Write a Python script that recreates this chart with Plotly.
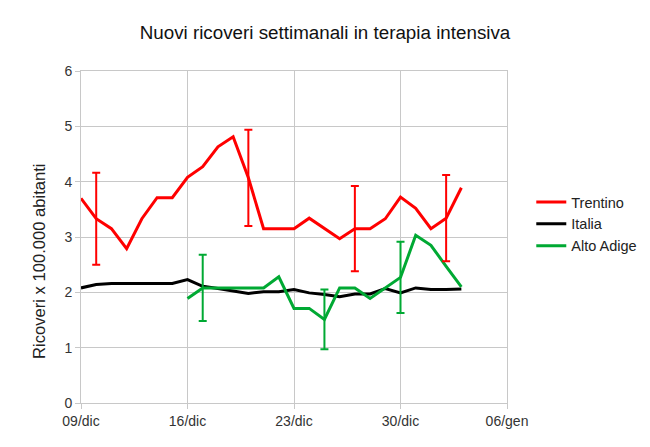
import pandas as pd
import plotly.graph_objects as go

# daily dates, 09/dic -> 03/gen
days = pd.date_range("2020-12-09", "2021-01-03", freq="D")

trentino = [3.70, 3.33, 3.15, 2.79, 3.33, 3.71, 3.71, 4.08, 4.27, 4.63, 4.81, 4.07, 3.15,
            3.15, 3.15, 3.34, 3.15, 2.97, 3.15, 3.15, 3.33, 3.72, 3.52, 3.15, 3.34, 3.89]
italia = [2.08, 2.14, 2.16, 2.16, 2.16, 2.15, 2.16, 2.23, 2.11, 2.07, 2.02, 1.98, 2.01,
          2.01, 2.05, 1.99, 1.96, 1.92, 1.97, 1.97, 2.07, 1.99, 2.08, 2.05, 2.05, 2.06]
alto_adige = [None] * 7 + [1.89, 2.08, 2.08, 2.08, 2.08, 2.08, 2.28, 1.71, 1.71, 1.51, 2.08,
                           2.08, 1.89, 2.08, 2.27, 3.03, 2.85, 2.47, 2.10]

# weekly confidence bars (index into days, +/- value)
trentino_err_idx = [1, 11, 18, 24]
trentino_err = [0.83, 0.87, 0.77, 0.78]
alto_adige_err_idx = [8, 16, 21]
alto_adige_err = [0.60, 0.54, 0.645]

tick_dates = ["2020-12-09", "2020-12-16", "2020-12-23", "2020-12-30", "2021-01-06"]
tick_labels = ["09/dic", "16/dic", "23/dic", "30/dic", "06/gen"]

RED, BLACK, GREEN = "#ff0000", "#000000", "#00a933"
GRID = "#c8c8c8"

fig = go.Figure()
fig.add_trace(go.Scatter(x=days, y=trentino, mode="lines", name="Trentino",
                         line=dict(color=RED, width=3)))
fig.add_trace(go.Scatter(x=days, y=italia, mode="lines", name="Italia",
                         line=dict(color=BLACK, width=3)))
fig.add_trace(go.Scatter(x=days, y=alto_adige, mode="lines", name="Alto Adige",
                         line=dict(color=GREEN, width=3)))

# error bars as invisible-marker overlays
for idx, err, col in [(trentino_err_idx, trentino_err, RED),
                      (alto_adige_err_idx, alto_adige_err, GREEN)]:
    src = trentino if col == RED else alto_adige
    fig.add_trace(go.Scatter(
        x=[days[i] for i in idx], y=[src[i] for i in idx], mode="markers",
        marker=dict(size=1, opacity=0), showlegend=False, hoverinfo="skip",
        error_y=dict(type="data", array=err, visible=True, color=col,
                     thickness=2, width=4)))

# page body has an 8px margin, so margins are shifted by that amount
fig.update_layout(
    width=650, height=447,
    paper_bgcolor="white", plot_bgcolor="white",
    font=dict(family="Liberation Sans, Arial, sans-serif", color="#333333", size=14),
    title=dict(text="Nuovi ricoveri settimanali in terapia intensiva",
               x=0.5 - 8 / 650, xanchor="center", y=0.946, yanchor="middle",
               font=dict(size=18.8, color="#111111")),
    margin=dict(l=73, r=151, t=63, b=52),
    legend=dict(x=1.057, y=0.539, xanchor="left", yanchor="middle",
                font=dict(size=14.5, color="#222222"), tracegroupgap=0,
                itemwidth=30, bgcolor="rgba(0,0,0,0)"),
    showlegend=True,
)
fig.add_annotation(text="Ricoveri x 100.000 abitanti", textangle=-90,
                   xref="paper", yref="paper", x=-42 / 426, y=(403 - 261) / 332,
                   xanchor="center", yanchor="middle", showarrow=False,
                   font=dict(size=16.6, color="#222222"))
fig.update_xaxes(
    type="date", range=["2020-12-09", "2021-01-06"],
    tickvals=tick_dates, ticktext=tick_labels,
    showgrid=True, gridcolor=GRID, gridwidth=1,
    showline=True, linecolor=GRID, mirror=True,
    ticks="outside", ticklen=5, tickcolor=GRID,
    zeroline=False, tickfont=dict(size=14),
)
fig.update_yaxes(
    range=[0, 6], dtick=1,
    showgrid=True, gridcolor=GRID, gridwidth=1,
    showline=True, linecolor=GRID, mirror=True,
    ticks="outside", ticklen=5, tickcolor=GRID,
    zeroline=False, tickfont=dict(size=14),
)

fig.write_html("out.html")
